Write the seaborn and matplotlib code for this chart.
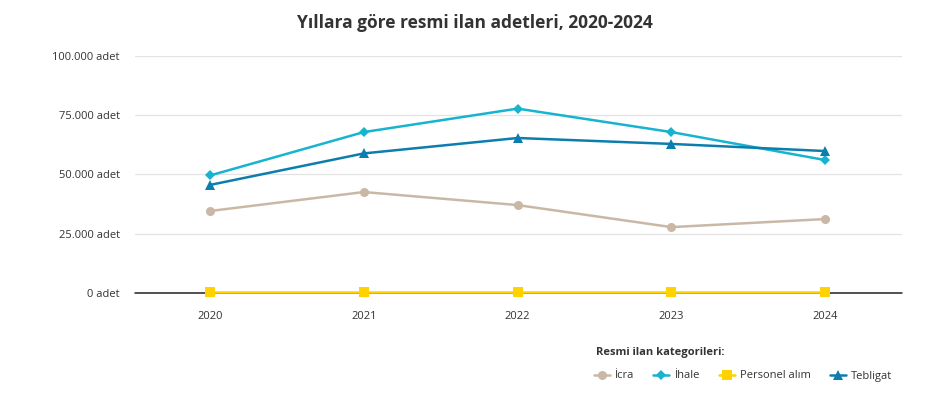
import matplotlib
matplotlib.use('Agg')
import matplotlib.pyplot as plt
from matplotlib.ticker import FuncFormatter
import seaborn as sns
import pandas as pd

years = ['2020', '2021', '2022', '2023', '2024']
icra = [34600, 42600, 37100, 27800, 31200]
ihale = [49600, 67900, 77800, 67900, 56100]
personel = [300, 300, 300, 300, 300]
tebligat = [45600, 58900, 65400, 62900, 59900]
categories = ['İcra', 'İhale', 'Personel alım', 'Tebligat']

colors = {'İcra': '#c9b8a5', 'İhale': '#17b4d0', 'Personel alım': '#ffd200', 'Tebligat': '#0c7eae'}
markers = {'İcra': 'o', 'İhale': 'D', 'Personel alım': 's', 'Tebligat': '^'}
msize = {'İcra': 6.5, 'İhale': 5, 'Personel alım': 6.5, 'Tebligat': 6.5}

rows = []
for cat, vals in zip(categories, [icra, ihale, personel, tebligat]):
    for i, v in enumerate(vals):
        rows.append({'yil': i, 'kategori': cat, 'adet': v})
df = pd.DataFrame(rows)

sns.set_style('white')
plt.rcParams['font.family'] = ['Open Sans', 'DejaVu Sans']

fig = plt.figure(figsize=(9.49, 4.0), dpi=100)
ax = fig.add_axes([0.1423, 0.2675, 0.8082, 0.5925])

# sıfır çizgisi
ax.axhline(0, color='#222222', linewidth=1.1, zorder=2, clip_on=False)

for cat in categories:
    sub = df[df['kategori'] == cat]
    sns.lineplot(data=sub, x='yil', y='adet', color=colors[cat], marker=markers[cat],
                 markersize=msize[cat], markeredgewidth=0, linewidth=1.8, ax=ax,
                 label=cat, clip_on=False, zorder=3)

ax.set_xlim(-0.488, 4.5)
ax.set_ylim(0, 100000)
ax.set_xticks(range(len(years)))
ax.set_xticklabels(years)
ax.set_yticks([0, 25000, 50000, 75000, 100000])
ax.yaxis.set_major_formatter(FuncFormatter(lambda v, p: f'{int(v):,}'.replace(',', '.') + ' adet'))
ax.grid(axis='y', color='#e3e3e3', linewidth=0.9)
for s in ax.spines.values():
    s.set_visible(False)
ax.tick_params(axis='both', length=0, labelsize=8, colors='#333333')
ax.tick_params(axis='y', pad=11)
ax.tick_params(axis='x', pad=13)
ax.set_xlabel('')
ax.set_ylabel('')

fig.text(0.5, 0.942, 'Yıllara göre resmi ilan adetleri, 2020-2024', ha='center', va='center',
         fontsize=12.5, fontweight='bold', color='#333333')

handles, labels = ax.get_legend_handles_labels()
ax.legend_.remove()
fig.text(596 / 949, 1 - 352 / 400, 'Resmi ilan kategorileri:', ha='left', va='center',
         fontsize=8, fontweight='bold', color='#333333')
leg = fig.legend(handles, labels, ncol=4, loc='center left', bbox_to_anchor=(594 / 949, 1 - 376 / 400),
                 frameon=False, fontsize=8,
                 handlelength=1.45, columnspacing=1.7, handletextpad=0.45, borderaxespad=0,
                 borderpad=0)
for t in leg.get_texts():
    t.set_color('#333333')

fig.savefig('out.png', dpi=100)
